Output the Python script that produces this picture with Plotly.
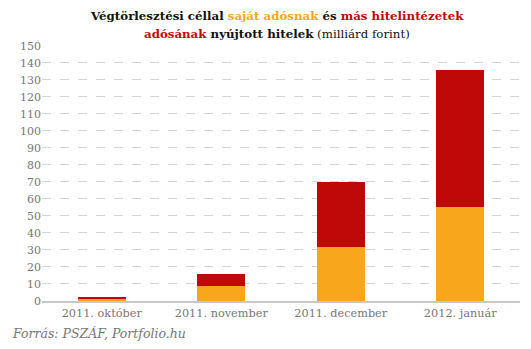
import plotly.graph_objects as go

categories = ["2011. október", "2011. november", "2011. december", "2012. január"]
sajat = [1.2, 9.0, 31.5, 55.0]
mas = [0.7, 6.8, 38.5, 81.0]
tick_vals = list(range(0, 151, 10))

ORANGE = "#F8A61C"
RED = "#BF0808"
FONT = "DejaVu Serif"

fig = go.Figure()
fig.add_trace(go.Bar(x=categories, y=sajat, marker=dict(color=ORANGE, line=dict(width=0)), name="saját adósnak"))
fig.add_trace(go.Bar(x=categories, y=mas, marker=dict(color=RED, line=dict(width=0)), name="más hitelintézetek adósának"))

line1 = (f"<b>Végtörlesztési céllal <span style='color:{ORANGE}'>saját adósnak</span> és "
         f"<span style='color:{RED}'>más hitelintézetek</span></b>")
line2 = f"<b><span style='color:{RED}'>adósának</span> nyújtott hitelek</b> (milliárd forint)"

fig.update_layout(
    barmode="stack",
    bargap=0.6,
    width=531, height=349,
    margin=dict(l=42, r=11, t=45, b=48),
    paper_bgcolor="white", plot_bgcolor="white",
    showlegend=False,
    font=dict(family=FONT, color="#777777", size=12),
    xaxis=dict(showgrid=False, showline=True, linecolor="#c8c8c8", linewidth=2,
               ticks="", tickfont=dict(family=FONT, size=11.3, color="#777777")),
    yaxis=dict(range=[0, 150.5], tickvals=tick_vals, showgrid=True, gridcolor="#d4d4d4",
               griddash="dash", gridwidth=1, zeroline=False, ticks="",
               tickfont=dict(family=FONT, size=11, color="#777777")),
)
for txt, yy in [(line1, 1.113), (line2, 1.043)]:
    fig.add_annotation(text=txt, xref="paper", yref="paper", x=0.492, y=yy,
                       xanchor="center", yanchor="middle", showarrow=False,
                       font=dict(family=FONT, size=11.8, color="#111111"))
fig.add_annotation(text="<i>Forrás: PSZÁF, Portfolio.hu</i>", xref="paper", yref="paper",
                   x=-0.067, y=-0.125, xanchor="left", yanchor="middle", showarrow=False,
                   font=dict(family=FONT, size=12.5, color="#777777"))

fig.write_html("out.html")
